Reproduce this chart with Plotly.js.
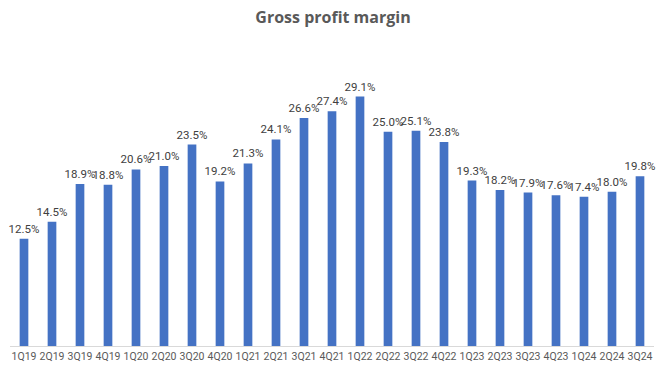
<!DOCTYPE html>
<html><head><meta charset="utf-8">
<script src="https://cdn.plot.ly/plotly-3.0.1.min.js"></script>
<style>html,body{margin:0;padding:0;background:#fff}#chart{width:666px;height:370px}</style>
</head><body><div id="chart"></div>
<script>
const categories = ["1Q19","2Q19","3Q19","4Q19","1Q20","2Q20","3Q20","4Q20","1Q21","2Q21","3Q21","4Q21","1Q22","2Q22","3Q22","4Q22","1Q23","2Q23","3Q23","4Q23","1Q24","2Q24","3Q24"];
const margins = [12.5,14.5,18.9,18.8,20.6,21.0,23.5,19.2,21.3,24.1,26.6,27.4,29.1,25.0,25.1,23.8,19.3,18.2,17.9,17.6,17.4,18.0,19.8];
const labels = margins.map(v => v.toFixed(1) + "%");

Plotly.newPlot("chart", [{
  type: "bar",
  x: categories,
  y: margins,
  text: labels,
  textposition: "outside",
  constraintext: "none",
  cliponaxis: false,
  textfont: {family: "Roboto, Liberation Sans, sans-serif", size: 11.5, color: "#404040"},
  marker: {color: "#4472C4"},
  hoverinfo: "none"
}], {
  width: 666, height: 370,
  margin: {l: 10, r: 12, t: 46, b: 24},
  paper_bgcolor: "#fff", plot_bgcolor: "#fff",
  bargap: 0.69,
  showlegend: false,
  title: {text: "<b>Gross profit margin</b>", x: 0.5, xanchor: "center", y: 0.952, yanchor: "middle",
          font: {family: "Open Sans, Liberation Sans, sans-serif", size: 16, color: "#595959"}},
  xaxis: {type: "category", showgrid: false, zeroline: false, showline: true, linecolor: "#D9D9D9", linewidth: 1,
          ticks: "", tickfont: {family: "Roboto, Liberation Sans, sans-serif", size: 10.5, color: "#595959"}},
  yaxis: {range: [0, 35], visible: false, showgrid: false, zeroline: false}
}, {staticPlot: true});
</script></body></html>
